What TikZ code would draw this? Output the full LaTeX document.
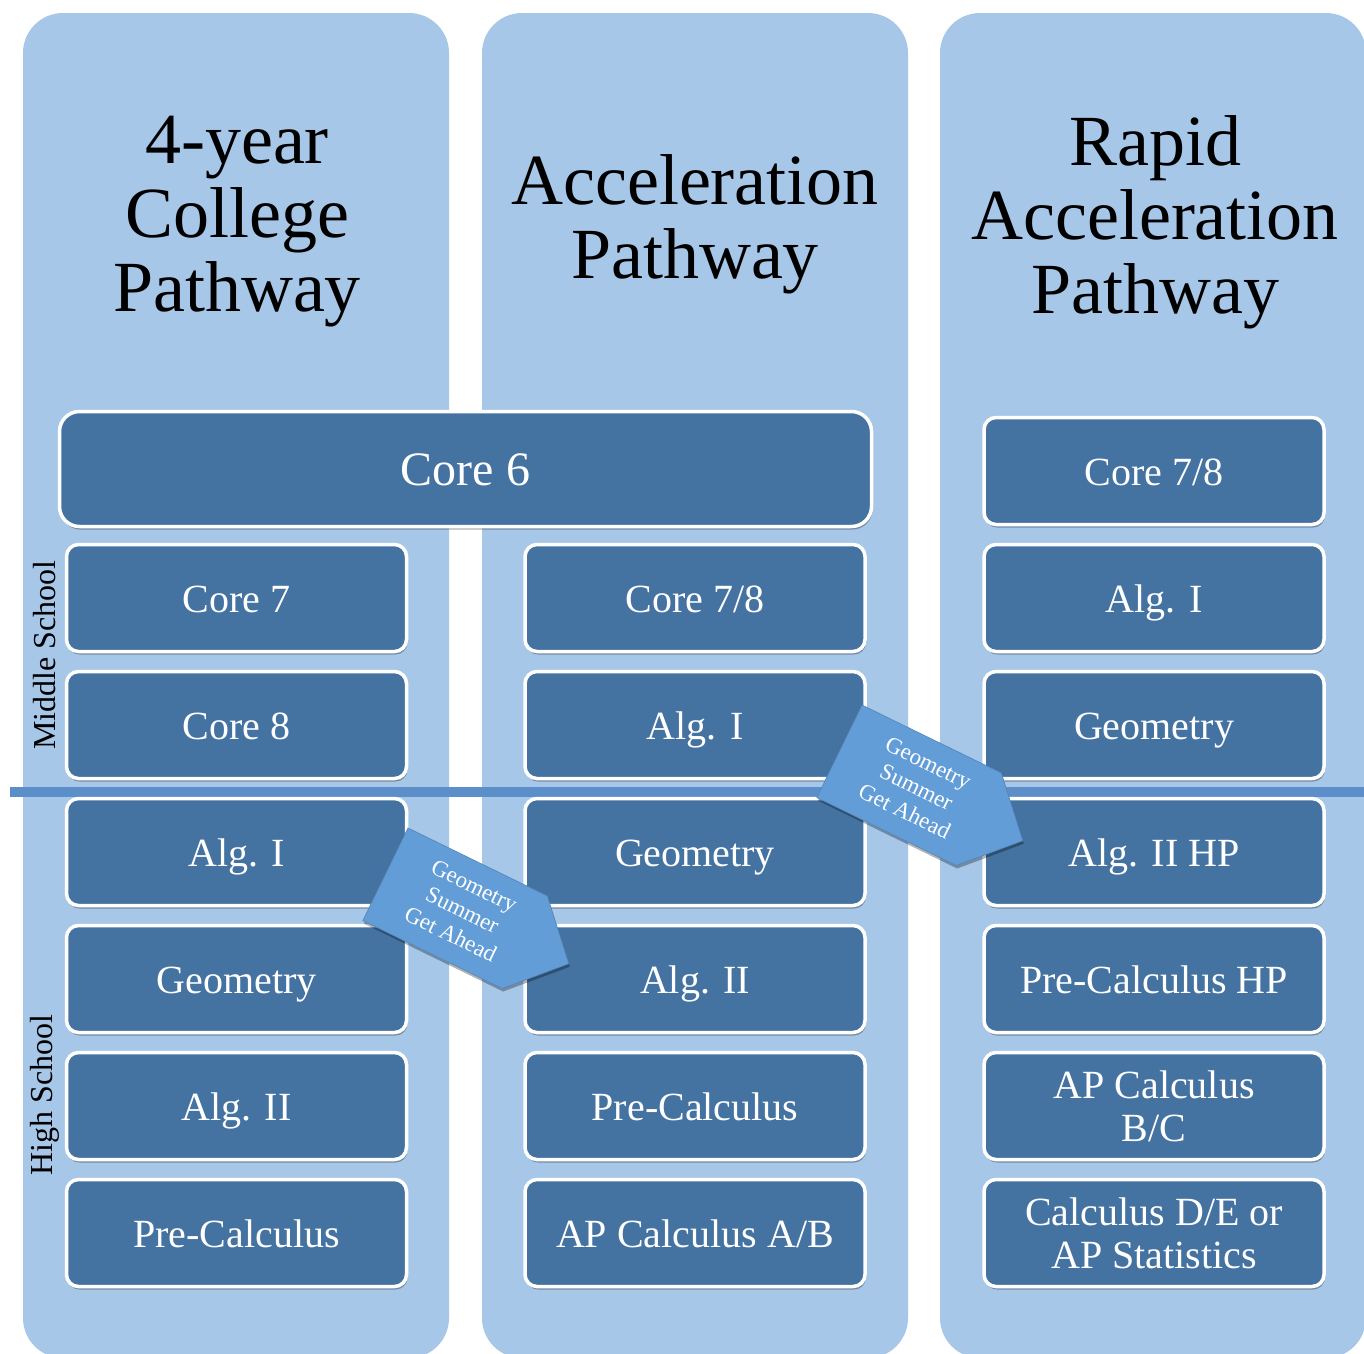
\documentclass[tikz,border=0pt]{standalone}
\usepackage{fontspec}
\setmainfont{Liberation Serif}
\usetikzlibrary{shadows}
\definecolor{panelc}{RGB}{167,199,232}
\definecolor{boxc}{RGB}{68,114,161}
\definecolor{arrowc}{RGB}{98,157,215}
\definecolor{linec}{RGB}{92,143,201}
\begin{document}
\begin{tikzpicture}[x=1pt,y=-1pt,
  panelbox/.style={fill=panelc, rounded corners=40pt, minimum width=426pt, minimum height=1345pt, inner sep=0pt},
  title/.style={font=\fontsize{72}{74}\selectfont, align=center, inner sep=0pt, text=black},
  course/.style={draw=white, line width=3.5pt, fill=boxc, rounded corners=12pt, text=white,
     minimum width=340pt, minimum height=107pt, inner sep=0pt, align=center,
     font=\fontsize{40}{43}\selectfont,
     drop shadow={shadow xshift=1pt, shadow yshift=-3pt, opacity=0.3, fill=black}},
  one/.style={text height=28pt, text depth=0pt},
  side/.style={font=\fontsize{32}{34}\selectfont, rotate=90, inner sep=0pt},
  arrowshape/.style={fill=arrowc, draw=arrowc!85!black, line width=0.6pt,
     drop shadow={shadow xshift=1pt, shadow yshift=-3pt, opacity=0.3, fill=black}},
  arrowtext/.style={font=\fontsize{23}{27}\selectfont, text=white, align=center, rotate=-26, inner sep=0pt}
]
\useasboundingbox (0,0) rectangle (1364,1353);
\clip (0,0) rectangle (1364,1353);

% panels
\node[panelbox] (p1) at (236,685.5) {};
\node[panelbox] (p2) at (695,685.5) {};
\node[panelbox] (p3) at (1153,685.5) {};

% titles
\node[title] (t1) at (237,222) {4-year\\College\\Pathway};
\node[title] (t2) at (695,224) {Acceleration\\Pathway};
\node[title] (t3) at (1155,222) {Rapid\\Acceleration\\Pathway};

% side labels
\node[side] (ms) at (45,655) {Middle School};
\node[side] (hs) at (45,1095) {High School};

% divider line
\coordinate (hlA) at (10,792);
\coordinate (hlB) at (1364,792);
\draw[linec, line width=10pt, drop shadow={shadow xshift=1pt, shadow yshift=-2pt, opacity=0.3}] (hlA) -- (hlB);

% Core 6
\node[course, one, minimum width=812pt, minimum height=115pt, rounded corners=20pt, font=\fontsize{48}{50}\selectfont, text height=33pt] (c6) at (465.5,469) {Core 6};

% column 1
\node[course, one] (a1) at (236.5,598) {Core 7};
\node[course, one] (a2) at (236.5,725) {Core 8};
\node[course, one] (a3) at (236.5,852) {Alg. I};
\node[course, one] (a4) at (236.5,979) {Geometry};
\node[course, one] (a5) at (236.5,1106) {Alg. II};
\node[course, one] (a6) at (236.5,1233) {Pre-Calculus};

% column 2
\node[course, one] (b1) at (695,598) {Core 7/8};
\node[course, one] (b2) at (695,725) {Alg. I};
\node[course, one] (b3) at (695,852) {Geometry};
\node[course, one] (b4) at (695,979) {Alg. II};
\node[course, one] (b5) at (695,1106) {Pre-Calculus};
\node[course, one] (b6) at (695,1233) {AP Calculus A/B};

% column 3
\node[course, one] (r0) at (1154,471) {Core 7/8};
\node[course, one] (r1) at (1154,598) {Alg. I};
\node[course, one] (r2) at (1154,725) {Geometry};
\node[course, one] (r3) at (1154,852) {Alg. II HP};
\node[course, one] (r4) at (1154,979) {Pre-Calculus HP};
\node[course] (r5) at (1154,1106) {AP Calculus\\B/C};
\node[course] (r6) at (1154,1233) {Calculus D/E or\\AP Statistics};

% summer arrows
\begin{scope}[shift={(408,828)}, rotate=-26]
  \path[arrowshape] (0,0) -- (155,0) -- (204,51.5) -- (155,103) -- (0,103) -- cycle;
  \node[arrowtext] (g1) at (85,50) {Geometry\\Summer\\Get Ahead};
\end{scope}
\begin{scope}[shift={(862,705)}, rotate=-26]
  \path[arrowshape] (0,0) -- (155,0) -- (204,51.5) -- (155,103) -- (0,103) -- cycle;
  \node[arrowtext] (g2) at (85,50) {Geometry\\Summer\\Get Ahead};
\end{scope}
\end{tikzpicture}
\end{document}
